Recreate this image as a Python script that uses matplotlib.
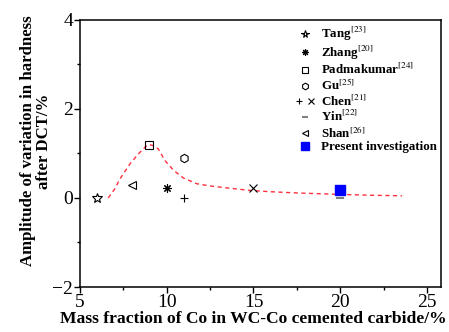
import matplotlib
matplotlib.use("Agg")
import matplotlib.pyplot as plt
from matplotlib.legend_handler import HandlerTuple
from matplotlib.ticker import MultipleLocator

plt.rcParams["font.family"] = "Liberation Serif"
plt.rcParams["mathtext.fontset"] = "stix"

# data
tang_x, tang_y = [6], [0.0]
zhang_x, zhang_y = [10], [0.23]
padma_x, padma_y = [9], [1.2]
gu_x, gu_y = [11], [0.9]
chen_plus_x, chen_plus_y = [11], [0.0]
chen_x_x, chen_x_y = [15], [0.22]
yin_x, yin_y = [20], [0.0]
shan_x, shan_y = [8], [0.3]
present_x, present_y = [20], [0.17]

# fitted trend (dashed red)
fit_x = [6.63, 7.0, 7.31, 7.89, 8.37, 8.75, 8.94, 9.2, 9.52, 9.9, 10.4, 10.96,
         11.73, 12.5, 13.85, 14.8, 16.0, 17.7, 20.0, 22.0, 23.56]
fit_y = [0.0, 0.2, 0.43, 0.77, 0.99, 1.14, 1.2, 1.18, 1.1, 0.84, 0.62, 0.45,
         0.32, 0.27, 0.21, 0.17, 0.14, 0.11, 0.08, 0.06, 0.05]

fig = plt.figure(figsize=(4.49, 3.32), dpi=100)
ax = fig.add_axes([0.178, 0.1355, 0.804, 0.8045])

ax.plot(fit_x, fit_y, color="#ff3040", ls=(0, (3, 2.5)), lw=1.0, zorder=1)

ms = 6
tang, = ax.plot(tang_x, tang_y, ls="none", marker="*", mfc="none", mec="black", ms=7, mew=0.8)
zhang, = ax.plot(zhang_x, zhang_y, ls="none", marker=(8, 2, 0), color="black", ms=ms, mew=0.8)
padma, = ax.plot(padma_x, padma_y, ls="none", marker="s", mfc="none", mec="black", ms=ms, mew=0.8)
gu, = ax.plot(gu_x, gu_y, ls="none", marker="h", mfc="none", mec="black", ms=ms, mew=0.8)
chen1, = ax.plot(chen_plus_x, chen_plus_y, ls="none", marker="+", color="black", ms=ms, mew=0.8)
chen2, = ax.plot(chen_x_x, chen_x_y, ls="none", marker="x", color="black", ms=ms, mew=0.8)
yin, = ax.plot(yin_x, yin_y, ls="none", marker="_", color="gray", ms=ms, mew=1.5)
shan, = ax.plot(shan_x, shan_y, ls="none", marker="<", mfc="none", mec="black", ms=ms, mew=0.8)
present, = ax.plot(present_x, present_y, ls="none", marker="s", color="blue", ms=7)

ax.set_xlim(5, 25.8)
ax.set_ylim(-2, 4)
ax.xaxis.set_major_locator(MultipleLocator(5))
ax.xaxis.set_minor_locator(MultipleLocator(2.5))
ax.yaxis.set_major_locator(MultipleLocator(2))
ax.yaxis.set_minor_locator(MultipleLocator(1))
ax.tick_params(which="major", direction="out", length=4, width=1, labelsize=14, pad=1)
ax.tick_params(which="minor", direction="out", length=2, width=1)
for s in ax.spines.values():
    s.set_linewidth(1.1)

ax.set_xlabel("Mass fraction of Co in WC-Co cemented carbide/%", fontsize=12.6,
              fontweight="bold", labelpad=0)
ax.xaxis.label.set_x(0.479)
ax.set_ylabel("Amplitude of variation in hardness\nafter DCT/%", fontsize=12.1,
              fontweight="bold", labelpad=0, linespacing=1.05)
ax.yaxis.label.set_y(0.547)

handles = [tang, zhang, padma, gu, (chen1, chen2), yin, shan, present]
labels = ["Tang$^{[23]}$", "Zhang$^{[20]}$", "Padmakumar$^{[24]}$", "Gu$^{[25]}$",
          "Chen$^{[21]}$", "Yin$^{[22]}$", "Shan$^{[26]}$", "Present investigation"]
leg = ax.legend(handles, labels, loc="upper left", bbox_to_anchor=(0.58, 1.0),
                frameon=False, handlelength=1.6, handletextpad=0.4,
                labelspacing=0.03, borderaxespad=0, markerscale=0.8,
                handler_map={tuple: HandlerTuple(ndivide=None, pad=0.3)},
                prop={"weight": "bold", "size": 9.4})

fig.savefig("out.png", dpi=100)
